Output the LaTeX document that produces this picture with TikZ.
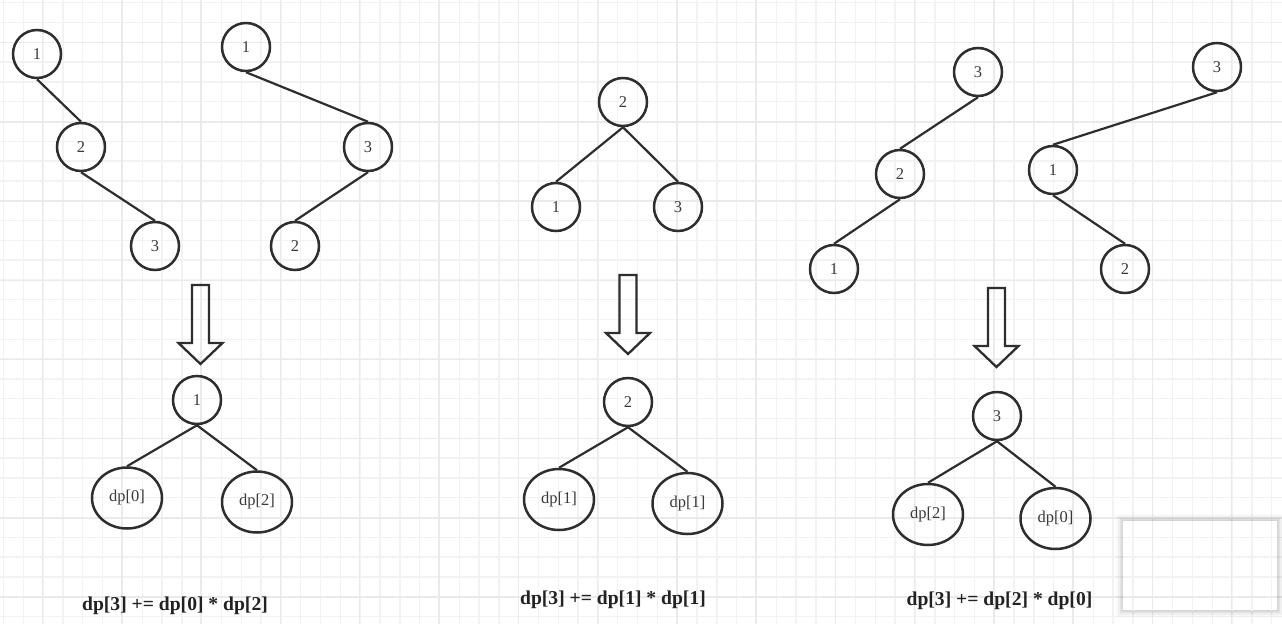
\documentclass[tikz,border=0pt]{standalone}
\usepackage{fontspec}
\setmainfont{Liberation Serif}
\newfontfamily\labfont{Liberation Serif}
\usetikzlibrary{shapes.geometric}
\definecolor{linec}{HTML}{2E2E2E}
\definecolor{labc}{HTML}{3A3A3A}
\definecolor{formc}{HTML}{222222}
\definecolor{gridminor}{HTML}{F2F2F2}
\definecolor{gridmajor}{HTML}{EAEAEA}
\tikzset{
  tn/.style={circle, draw=linec, line width=2.5pt, minimum size=48pt, inner sep=0pt, text=labc, font=\labfont\fontsize{16.5}{18}\selectfont},
  dn/.style={ellipse, draw=linec, line width=2.5pt, minimum width=70pt, minimum height=61pt, inner sep=0pt, text=labc, font=\labfont\fontsize{16.5}{18}\selectfont},
  ed/.style={draw=linec, line width=2.2pt},
  formula/.style={text=formc, inner sep=0pt, font=\labfont\bfseries\fontsize{19.6}{22}\selectfont},
  gminor/.style={draw=gridminor, line width=1.4pt},
  gmajor/.style={draw=gridmajor, line width=1.5pt},
  pics/blockarrow/.style={code={
    \draw[linec, line width=2.3pt, line join=miter] (-8.5,0) -- (8.5,0) -- (8.5,58) -- (22,58) -- (0,79) -- (-22,58) -- (-8.5,58) -- cycle;
  }}
}
\newcommand{\drawgrid}{%
\foreach \k in {0,...,64} {\pgfmathsetmacro\gx{3.5+\k*19.815} \draw[gminor] (\gx,0) -- (\gx,624);}
\foreach \k in {0,...,31} {\pgfmathsetmacro\gy{2.7+\k*19.8} \draw[gminor] (0,\gy) -- (1282,\gy);}
\foreach \k in {0,...,15} {\pgfmathsetmacro\gx{42.7+\k*79.26} \draw[gmajor] (\gx,0) -- (\gx,624);}
\foreach \k in {0,...,7} {\pgfmathsetmacro\gy{42.7+\k*79.2} \draw[gmajor] (0,\gy) -- (1282,\gy);}%
}
\begin{document}
\begin{tikzpicture}[x=1pt,y=-1pt]
\useasboundingbox (0,0) rectangle (1282,624);
\fill[white] (0,0) rectangle (1282,624);
\drawgrid

% ---- top left tree A
\node[tn] (a1) at (37,54) {1};
\node[tn] (a2) at (81,147) {2};
\node[tn] (a3) at (155,246) {3};
\draw[ed] (a1.south) -- (a2.north);
\draw[ed] (a2.south) -- (a3.north);
% ---- top left tree B
\node[tn] (b1) at (246,47) {1};
\node[tn] (b3) at (368,147) {3};
\node[tn] (b2) at (295,246) {2};
\draw[ed] (b1.south) -- (b3.north);
\draw[ed] (b3.south) -- (b2.north);
% ---- middle tree
\node[tn] (c2) at (623,102) {2};
\node[tn] (c1) at (556,207) {1};
\node[tn] (c3) at (678,207) {3};
\draw[ed] (c2.south) -- (c1.north);
\draw[ed] (c2.south) -- (c3.north);
% ---- right tree D
\node[tn] (d3) at (978,72) {3};
\node[tn] (d2) at (900,174) {2};
\node[tn] (d1) at (834,269) {1};
\draw[ed] (d3.south) -- (d2.north);
\draw[ed] (d2.south) -- (d1.north);
% ---- right tree E
\node[tn] (e3) at (1217,67) {3};
\node[tn] (e1) at (1053,170) {1};
\node[tn] (e2) at (1125,269) {2};
\draw[ed] (e3.south) -- (e1.north);
\draw[ed] (e1.south) -- (e2.north);

% ---- arrows
\pic at (200.5,285) {blockarrow};
\pic at (628,275) {blockarrow};
\pic at (996.5,288) {blockarrow};

% ---- bottom left
\node[tn] (f1) at (197,400) {1};
\node[dn] (f0) at (127,498) {dp[0]};
\node[dn] (f2) at (257,502) {dp[2]};
\draw[ed] (f1.south) -- (f0.north);
\draw[ed] (f1.south) -- (f2.north);
\node[formula] (ft) at (175,606) {dp[3] += dp[0] * dp[2]};
% ---- bottom middle
\node[tn] (g2) at (628,402) {2};
\node[dn] (gl) at (559,499.5) {dp[1]};
\node[dn] (gr) at (687.5,503.5) {dp[1]};
\draw[ed] (g2.south) -- (gl.north);
\draw[ed] (g2.south) -- (gr.north);
\node[formula] (gt) at (613,600) {dp[3] += dp[1] * dp[1]};
% ---- bottom right
\node[tn] (h3) at (997,416) {3};
\node[dn] (hl) at (928,514.5) {dp[2]};
\node[dn] (hr) at (1055.5,518.5) {dp[0]};
\draw[ed] (h3.south) -- (hl.north);
\draw[ed] (h3.south) -- (hr.north);
\node[formula] (ht) at (999.5,601) {dp[3] += dp[2] * dp[0]};

% ---- minimap box with soft shadow
\foreach \s/\o in {7/0.025,5/0.035,3/0.05,1.5/0.06} {
  \fill[black, opacity=\o, even odd rule] (1123-\s,521-\s) rectangle (1277+\s,610+\s) (1123,521) rectangle (1277,610);
}
\fill[white] (1123,521) rectangle (1277,610);
\begin{scope}
\clip (1123,521) rectangle (1277,610);
\drawgrid
\end{scope}
\end{tikzpicture}
\end{document}
